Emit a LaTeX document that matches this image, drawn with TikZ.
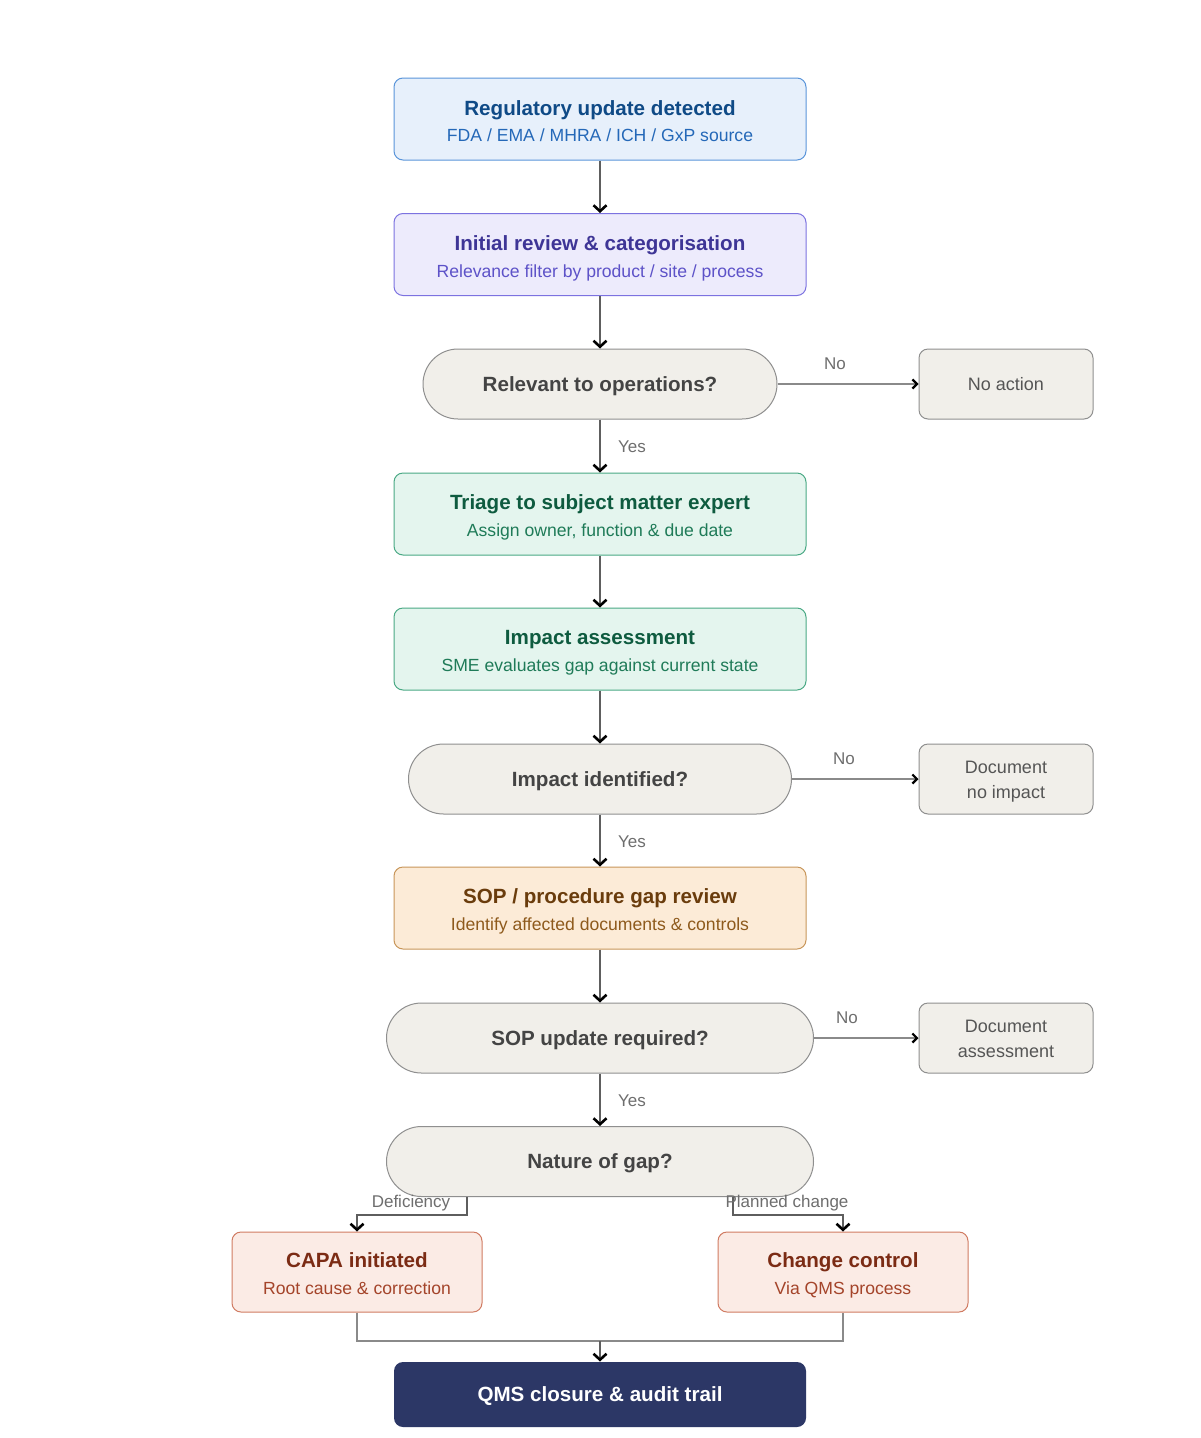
\documentclass[tikz,border=0pt]{standalone}
\usepackage{fontspec}
\setmainfont{Liberation Sans}
\usetikzlibrary{arrows.meta}
\definecolor{bluefill}{HTML}{E7F0FB}\definecolor{blueline}{HTML}{5A95DA}\definecolor{bluet}{HTML}{0F4A86}\definecolor{blues}{HTML}{2468B8}
\definecolor{purpfill}{HTML}{EDEBFC}\definecolor{purpline}{HTML}{7C72E0}\definecolor{purpt}{HTML}{3E3596}\definecolor{purps}{HTML}{5D52C8}
\definecolor{grnfill}{HTML}{E4F5EE}\definecolor{grnline}{HTML}{4AA985}\definecolor{grnt}{HTML}{0E5B3F}\definecolor{grns}{HTML}{1F7B58}
\definecolor{orfill}{HTML}{FCEBD7}\definecolor{orline}{HTML}{C8965A}\definecolor{ort}{HTML}{6A3C0C}\definecolor{ors}{HTML}{8E5A1C}
\definecolor{redfill}{HTML}{FBEBE5}\definecolor{redline}{HTML}{D07B62}\definecolor{redt}{HTML}{7B2B14}\definecolor{reds}{HTML}{A4442A}
\definecolor{decfill}{HTML}{F1EFEA}\definecolor{decline}{HTML}{8F8F8F}\definecolor{dect}{HTML}{444444}\definecolor{sidet}{HTML}{555555}
\definecolor{qmsfill}{HTML}{2C3766}\definecolor{flowc}{HTML}{5E5E5E}\definecolor{thinc}{HTML}{8A8A8A}\definecolor{lblc}{HTML}{6E6E6E}
\tikzset{
 box/.style={rounded corners=9pt, minimum width=412pt, minimum height=82pt, line width=1pt, inner sep=0pt},
 dec/.style={draw=decline, fill=decfill, rounded corners=35pt, minimum height=70pt, line width=1pt, inner sep=0pt},
 side/.style={draw=decline, fill=decfill, rounded corners=9pt, minimum width=174pt, minimum height=70pt, line width=1pt, inner sep=0pt},
 ttl/.style={anchor=base, inner sep=0pt, font=\fontsize{20.6}{24}\selectfont\bfseries},
 sub/.style={anchor=base, inner sep=0pt, font=\fontsize{17.6}{21}\selectfont},
 dtx/.style={anchor=base, inner sep=0pt, text=dect, font=\fontsize{20.6}{24}\selectfont\bfseries},
 stx/.style={anchor=base, inner sep=0pt, text=sidet, font=\fontsize{18}{21}\selectfont},
 lbl/.style={anchor=base, inner sep=0pt, text=lblc, font=\fontsize{17}{20}\selectfont},
 flow/.style={draw=flowc, line width=2.5pt, -{Straight Barb[length=6pt,width=13pt,line width=2.6pt,color=black]}},
 noline/.style={draw=thinc, line width=2pt, -{Straight Barb[length=4.5pt,width=9pt,line width=2.2pt,color=black]}},
 thinline/.style={draw=thinc, line width=2.2pt},
}
\begin{document}
\begin{tikzpicture}[x=1pt,y=-1pt]
\useasboundingbox[fill=white] (0,0) rectangle (1200,1438);
% main boxes
\node[box, draw=blueline, fill=bluefill] (reg) at (600,119) {};
\node[ttl, text=bluet] (regT) at (600,115) {Regulatory update detected};
\node[sub, text=blues] (regS) at (600,141) {FDA / EMA / MHRA / ICH / GxP source};

\node[box, draw=purpline, fill=purpfill] (init) at (600,254.5) {};
\node[ttl, text=purpt] (initT) at (600,250) {Initial review \& categorisation};
\node[sub, text=purps] (initS) at (600,277) {Relevance filter by product / site / process};

\node[dec, minimum width=354pt] (rel) at (600,384) {};
\node[dtx] (relT) at (600,391) {Relevant to operations?};
\node[side] (noact) at (1006,384) {};
\node[stx] (noactT) at (1006,390) {No action};

\node[box, draw=grnline, fill=grnfill] (tri) at (600,514) {};
\node[ttl, text=grnt] (triT) at (600,509.5) {Triage to subject matter expert};
\node[sub, text=grns] (triS) at (600,536.5) {Assign owner, function \& due date};

\node[box, draw=grnline, fill=grnfill] (imp) at (600,649) {};
\node[ttl, text=grnt] (impT) at (600,644.5) {Impact assessment};
\node[sub, text=grns] (impS) at (600,671.5) {SME evaluates gap against current state};

\node[dec, minimum width=383pt] (impq) at (600,779) {};
\node[dtx] (impqT) at (600,786) {Impact identified?};
\node[side] (noimp) at (1006,779) {};
\node[stx] (noimpT1) at (1006,773) {Document};
\node[stx] (noimpT2) at (1006,798) {no impact};

\node[box, draw=orline, fill=orfill] (sop) at (600,908) {};
\node[ttl, text=ort] (sopT) at (600,903.5) {SOP / procedure gap review};
\node[sub, text=ors] (sopS) at (600,930.5) {Identify affected documents \& controls};

\node[dec, minimum width=427pt] (sopq) at (600,1038) {};
\node[dtx] (sopqT) at (600,1045) {SOP update required?};
\node[side] (docas) at (1006,1038) {};
\node[stx] (docasT1) at (1006,1032) {Document};
\node[stx] (docasT2) at (1006,1057) {assessment};

\node[dec, minimum width=427pt] (nat) at (600,1161.5) {};
\node[dtx] (natT) at (600,1168.5) {Nature of gap?};

\node[box, draw=redline, fill=redfill, minimum width=250pt, minimum height=80pt] (capa) at (357,1272) {};
\node[ttl, text=redt] (capaT) at (357,1267) {CAPA initiated};
\node[sub, text=reds] (capaS) at (357,1294) {Root cause \& correction};

\node[box, draw=redline, fill=redfill, minimum width=250pt, minimum height=80pt] (cc) at (843,1272) {};
\node[ttl, text=redt] (ccT) at (843,1267) {Change control};
\node[sub, text=reds] (ccS) at (843,1294) {Via QMS process};

\node[box, fill=qmsfill, minimum height=65pt] (qms) at (600,1394.5) {};
\node[ttl, text=white] (qmsT) at (600,1401.5) {QMS closure \& audit trail};

% connectors
\draw[flow] (reg) -- (init);
\draw[flow] (init) -- (rel);
\draw[flow] (rel) -- (tri);
\draw[flow] (tri) -- (imp);
\draw[flow] (imp) -- (impq);
\draw[flow] (impq) -- (sop);
\draw[flow] (sop) -- (sopq);
\draw[flow] (sopq) -- (nat);
\draw[noline] (rel) -- (noact);
\draw[noline] (impq) -- (noimp);
\draw[noline] (sopq) -- (docas);

\draw[flow] ([xshift=-133pt]nat.south) -- ++(0,18) -| (capa.north);
\draw[flow] ([xshift=133pt]nat.south) -- ++(0,18) -| (cc.north);

\coordinate (merge) at (600,1341);
\draw[thinline] (capa.south) |- (merge) -| (cc.south);
\draw[flow] (merge) -- (qms.north);

% labels
\node[lbl] (no1) at (835,369) {No};
\node[lbl] (yes1) at (632,452) {Yes};
\node[lbl] (no2) at (844,764) {No};
\node[lbl] (yes2) at (632,847) {Yes};
\node[lbl] (no3) at (847,1023) {No};
\node[lbl] (yes3) at (632,1106) {Yes};
\node[lbl] (defl) at (411,1207) {Deficiency};
\node[lbl] (plan) at (787,1207) {Planned change};
\end{tikzpicture}
\end{document}
